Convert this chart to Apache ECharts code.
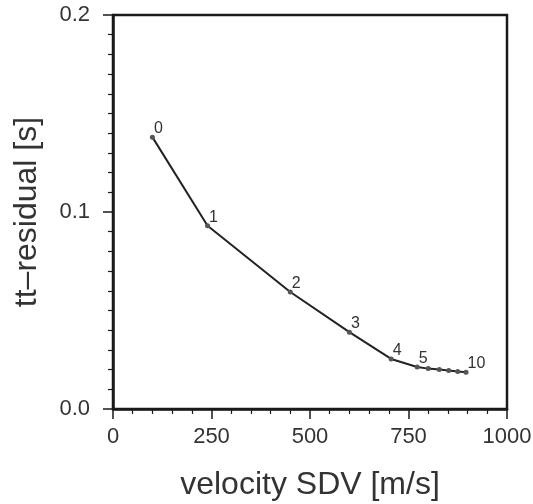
<!DOCTYPE html>
<html><head><meta charset="utf-8">
<script src="https://cdn.jsdelivr.net/npm/echarts@6/dist/echarts.min.js"></script>
<style>html,body{margin:0;padding:0;background:#fff}#c{width:533px;height:504px}</style>
</head><body><div id="c"></div>
<script>
const sdv = [100, 240, 450, 600, 706, 772, 800, 828, 852, 875, 896];
const residual = [0.138, 0.093, 0.0594, 0.039, 0.0254, 0.0213, 0.0205, 0.020, 0.0195, 0.019, 0.0186];
const pointLabels = ['0', '1', '2', '3', '4', '5', '', '', '', '', '10'];
const xTicks = [0, 250, 500, 750, 1000];
const yTicks = [0.0, 0.1, 0.2];

const data = sdv.map((x, i) => ({
  value: [x, residual[i]],
  label: { show: pointLabels[i] !== '', formatter: pointLabels[i] }
}));
const chart = echarts.init(document.getElementById('c'));
const font = 'Liberation Sans, Arial, sans-serif';
chart.setOption({
  backgroundColor: '#fff',
  animation: false,
  grid: { left: 113, right: 26, top: 15, bottom: 95, outerBoundsMode: 'none', containLabel: false,
    show: true, borderColor: '#1a1a1a', borderWidth: 2.5, backgroundColor: '#fff' },
  xAxis: {
    type: 'value', min: 0, max: 1000, interval: 250,
    name: 'velocity SDV [m/s]', nameLocation: 'middle', nameGap: 60,
    nameTextStyle: { fontSize: 32, color: '#333', fontFamily: font },
    axisLine: { lineStyle: { color: '#1a1a1a', width: 2.5 } },
    axisTick: { show: true, length: 10, lineStyle: { color: '#1a1a1a', width: 1.5 } },
    minorTick: { show: true, splitNumber: 5, length: 5, lineStyle: { color: '#1a1a1a', width: 1.2 } },
    splitLine: { show: false },
    axisLabel: { fontSize: 22, color: '#333', fontFamily: font, margin: 17, formatter: v => xTicks.includes(v) ? String(v) : '' }
  },
  yAxis: {
    type: 'value', min: 0, max: 0.2, interval: 0.1,
    name: 'tt\u2013residual [s]', nameLocation: 'middle', nameGap: 70,
    nameTextStyle: { fontSize: 32, color: '#333', fontFamily: font },
    axisLine: { lineStyle: { color: '#1a1a1a', width: 2.5 } },
    axisTick: { show: true, length: 10, lineStyle: { color: '#1a1a1a', width: 1.5 } },
    minorTick: { show: true, splitNumber: 10, length: 5, lineStyle: { color: '#1a1a1a', width: 1.2 } },
    splitLine: { show: false },
    axisLabel: { fontSize: 22, color: '#333', fontFamily: font, margin: 23, formatter: v => yTicks.some(t => Math.abs(t - v) < 1e-9) ? v.toFixed(1) : '' }
  },
  series: [{
    type: 'line', data: data,
    symbol: 'circle', symbolSize: 5,
    itemStyle: { color: '#555' },
    lineStyle: { color: '#222', width: 2 },
    label: { position: 'insideBottomLeft', distance: 2, offset: [2, -1], fontSize: 16, color: '#333', fontFamily: font,
      align: 'left', verticalAlign: 'bottom' }
  }]
});
</script></body></html>
